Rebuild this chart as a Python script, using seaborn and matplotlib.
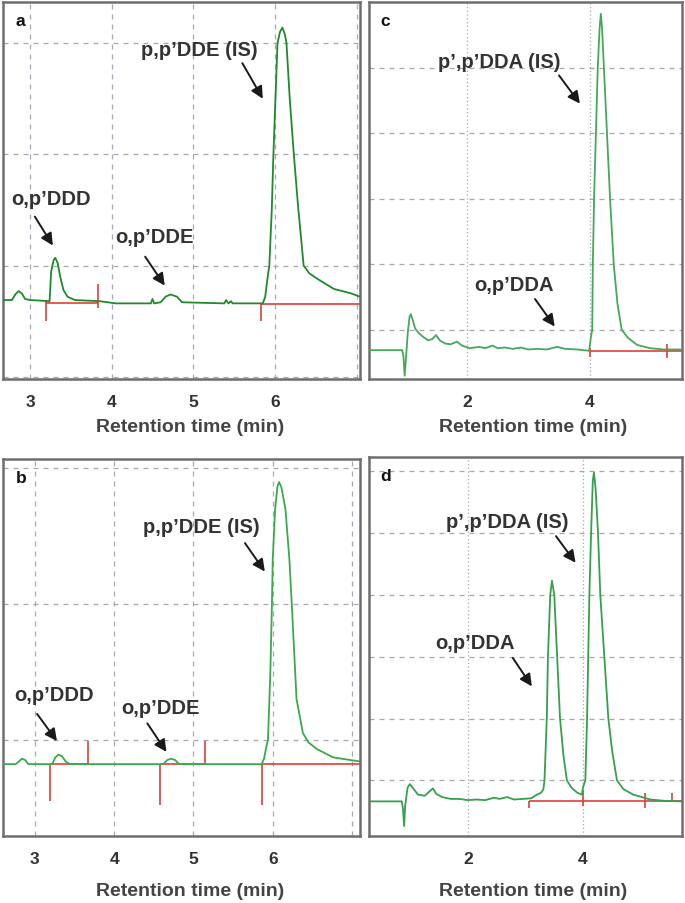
import seaborn as sns
import matplotlib
matplotlib.use("Agg")
import matplotlib.pyplot as plt
import pandas as pd

sns.set_style("white")
plt.rcParams['font.family'] = ['Liberation Sans', 'DejaVu Sans']

# chromatogram traces: (retention time [min], signal [grid units])
a_trace = [(2.67, 0.69), (2.78, 0.69), (2.82, 0.74), (2.86, 0.77), (2.90, 0.75), (2.94, 0.70),
           (3.00, 0.69), (3.24, 0.68), (3.26, 0.95), (3.29, 1.05), (3.31, 1.07), (3.34, 1.02),
           (3.37, 0.90), (3.41, 0.78), (3.46, 0.72), (3.55, 0.69), (3.85, 0.68), (3.95, 0.67),
           (4.05, 0.66), (4.48, 0.66), (4.50, 0.70), (4.52, 0.66), (4.60, 0.67), (4.66, 0.72),
           (4.72, 0.74), (4.80, 0.72), (4.86, 0.67), (5.38, 0.66), (5.40, 0.69), (5.43, 0.66),
           (5.46, 0.68), (5.48, 0.66), (5.85, 0.66), (5.88, 0.72), (5.91, 0.90), (5.93, 1.00),
           (5.96, 1.50), (5.98, 2.00), (6.01, 2.60), (6.03, 3.00), (6.06, 3.10), (6.09, 3.14),
           (6.12, 3.08), (6.14, 3.00), (6.18, 2.50), (6.23, 2.00), (6.28, 1.55), (6.35, 1.00),
           (6.42, 0.93), (6.52, 0.88), (6.72, 0.79), (6.93, 0.75), (7.04, 0.72)]

b_trace = [(2.60, 0.82), (2.76, 0.82), (2.80, 0.84), (2.84, 0.86), (2.88, 0.85), (2.92, 0.82),
           (3.22, 0.82), (3.26, 0.87), (3.30, 0.89), (3.34, 0.88), (3.39, 0.84), (3.44, 0.82),
           (4.62, 0.82), (4.67, 0.85), (4.72, 0.86), (4.77, 0.85), (4.82, 0.82), (5.86, 0.82),
           (5.89, 0.86), (5.92, 0.95), (5.94, 1.00), (5.97, 1.50), (5.99, 2.00), (6.00, 2.33),
           (6.03, 2.70), (6.06, 2.87), (6.08, 2.90), (6.11, 2.86), (6.16, 2.70), (6.21, 2.33),
           (6.24, 2.00), (6.30, 1.30), (6.38, 1.05), (6.45, 0.98), (6.56, 0.93), (6.76, 0.87),
           (6.98, 0.85), (7.10, 0.84)]

c_trace = [(0.41, 0.69), (0.95, 0.69), (0.97, 0.60), (0.99, 0.30), (1.01, 0.55), (1.04, 0.95),
           (1.07, 1.20), (1.09, 1.24), (1.12, 1.15), (1.16, 1.02), (1.21, 0.96), (1.28, 0.90),
           (1.37, 0.84), (1.44, 0.86), (1.50, 0.92), (1.56, 0.84), (1.65, 0.79), (1.74, 0.78),
           (1.84, 0.82), (1.92, 0.76), (2.05, 0.72), (2.20, 0.74), (2.30, 0.72), (2.42, 0.76),
           (2.50, 0.72), (2.62, 0.73), (2.75, 0.71), (2.88, 0.73), (3.00, 0.70), (3.15, 0.71),
           (3.30, 0.70), (3.47, 0.74), (3.60, 0.71), (3.80, 0.70), (3.99, 0.68), (4.02, 0.90),
           (4.04, 1.00), (4.05, 2.00), (4.07, 3.00), (4.10, 4.00), (4.13, 5.00), (4.16, 5.60),
           (4.18, 5.82), (4.20, 5.60), (4.23, 5.00), (4.28, 4.00), (4.33, 3.00), (4.39, 2.00),
           (4.45, 1.40), (4.52, 1.00), (4.62, 0.88), (4.77, 0.77), (4.98, 0.72), (5.20, 0.70),
           (5.50, 0.70)]

d_trace = [(0.28, 0.66), (0.85, 0.66), (0.87, 0.55), (0.89, 0.26), (0.91, 0.60), (0.95, 0.88),
           (0.99, 0.94), (1.04, 0.88), (1.13, 0.77), (1.25, 0.75), (1.33, 0.82), (1.39, 0.87),
           (1.45, 0.78), (1.55, 0.73), (1.70, 0.70), (1.85, 0.70), (2.00, 0.68), (2.15, 0.69),
           (2.30, 0.68), (2.45, 0.72), (2.55, 0.70), (2.68, 0.73), (2.80, 0.69), (2.95, 0.70),
           (3.10, 0.71), (3.20, 0.77), (3.27, 0.80), (3.31, 0.85), (3.33, 1.00), (3.37, 2.00),
           (3.39, 3.00), (3.43, 4.00), (3.46, 4.23), (3.50, 4.00), (3.55, 3.00), (3.60, 2.00),
           (3.66, 1.40), (3.72, 1.00), (3.80, 0.88), (3.90, 0.80), (3.98, 0.77), (4.00, 0.89),
           (4.04, 1.00), (4.07, 2.00), (4.09, 3.00), (4.11, 4.00), (4.14, 5.00), (4.17, 5.85),
           (4.19, 5.98), (4.22, 5.70), (4.26, 5.00), (4.30, 4.00), (4.37, 3.00), (4.44, 2.00),
           (4.51, 1.45), (4.59, 1.00), (4.70, 0.86), (4.87, 0.77), (5.17, 0.69), (5.40, 0.67),
           (5.72, 0.66)]

# integration baselines (start, end, level) and markers (time, low, high)
a_base = [(3.20, 3.83, 0.66), (5.83, 7.04, 0.65)]
a_marks = [(3.20, 0.50, 0.69), (3.83, 0.62, 0.83), (5.83, 0.50, 0.66)]
b_base = [(3.19, 3.67, 0.82), (4.58, 5.15, 0.82), (5.86, 7.10, 0.82)]
b_marks = [(3.19, 0.55, 0.82), (3.67, 0.82, 0.99), (4.58, 0.52, 0.82), (5.15, 0.82, 0.99), (5.86, 0.52, 0.82)]
c_base = [(4.00, 5.50, 0.68)]
c_marks = [(4.00, 0.58, 0.72), (5.26, 0.57, 0.78)]
d_base = [(3.06, 5.72, 0.66)]
d_marks = [(3.06, 0.56, 0.66), (4.00, 0.58, 0.85), (5.08, 0.56, 0.80), (5.55, 0.66, 0.80)]

# peak labels: text, text position, arrow tail, arrow head
a_labels = [("p,p’DDE (IS)", 5.07, 2.94, 5.60, 2.82, 5.85, 2.50),
            ("o,p’DDD", 3.26, 1.60, 3.06, 1.44, 3.28, 1.18),
            ("o,p’DDE", 4.53, 1.26, 4.41, 1.08, 4.65, 0.82)]
b_labels = [("p,p’DDE (IS)", 5.10, 2.57, 5.65, 2.45, 5.90, 2.24),
            ("o,p’DDD", 3.24, 1.33, 3.03, 1.19, 3.28, 0.99),
            ("o,p’DDE", 4.58, 1.24, 4.42, 1.12, 4.66, 0.91)]
c_labels = [("p’,p’DDA (IS)", 2.52, 5.10, 3.50, 4.88, 3.84, 4.45),
            ("o,p’DDA", 2.77, 1.69, 3.11, 1.47, 3.43, 1.05)]
d_labels = [("p’,p’DDA (IS)", 2.68, 5.18, 3.53, 4.95, 3.87, 4.52),
            ("o,p’DDA", 2.12, 3.23, 2.78, 2.98, 3.11, 2.52)]

a_ticks = [3, 4, 5, 6]
c_ticks = [2, 4]

W, H = 685, 904
fig = plt.figure(figsize=(W / 100, H / 100), dpi=100)


def px_axes(left, top, right, bottom):
    return fig.add_axes([left / W, 1 - bottom / H, (right - left) / W, (bottom - top) / H])


panels = [
    # letter, axes box (px), trace, base, marks, labels, xlim, ylim, xgrid, ygrid, xticks, green, vgrid style
    ("a", (3, 3, 360, 380), a_trace, a_base, a_marks, a_labels, (2.67, 7.04), (-0.02, 3.37),
     [3, 4, 5, 6, 7], [0, 1, 2, 3], a_ticks, "#1f8a2c", (0, (4, 4))),
    ("b", (3, 460, 360, 837), b_trace, b_base, b_marks, b_labels, (2.60, 7.10), (0.29, 3.07),
     [3, 4, 5, 6, 7], [1, 2, 3], a_ticks, "#3aaa4c", (0, (4, 4))),
    ("c", (369, 3, 682, 380), c_trace, c_base, c_marks, c_labels, (0.41, 5.50), (0.25, 6.0),
     [2, 4], [1, 2, 3, 4, 5], c_ticks, "#45a85a", (0, (1, 2))),
    ("d", (369, 458, 682, 837), d_trace, d_base, d_marks, d_labels, (0.28, 5.72), (0.10, 6.23),
     [2, 4], [1, 2, 3, 4, 5, 6], c_ticks, "#36a04c", (0, (1, 2))),
]

for (letter, box, trace, base, marks, labels, xlim, ylim,
     xgrid, ygrid, xticks, green, vstyle) in panels:
    ax = px_axes(*box)
    df = pd.DataFrame(trace, columns=["time", "signal"])

    for x in xgrid:
        ax.axvline(x, color="#a8a8b4", lw=0.9, ls=vstyle, zorder=0)
    for y in ygrid:
        ax.axhline(y, color="#a8a8a8", lw=0.9, ls=(0, (4, 4)), zorder=0)

    for t0, t1, lvl in base:
        ax.hlines(lvl, t0, t1, color="#e0403a", lw=1.2, zorder=2)
    for t, lo, hi in marks:
        ax.vlines(t, lo, hi, color="#e0403a", lw=1.2, zorder=2)

    sns.lineplot(data=df, x="time", y="signal", ax=ax, color=green, lw=1.3,
                 sort=False, estimator=None, zorder=3)

    for text, tx, ty, x0, y0, x1, y1 in labels:
        ax.text(tx, ty, text, ha="center", va="center", fontsize=14.5,
                fontweight="bold", color="#333333")
        ax.annotate("", xy=(x1, y1), xytext=(x0, y0),
                    arrowprops=dict(arrowstyle="-|>", color="#1a1a1a", lw=1.4,
                                    mutation_scale=18, shrinkA=0, shrinkB=0))

    ax.text(0.035, 0.952, letter, transform=ax.transAxes, fontsize=12.5,
            fontweight="bold", color="#111111", va="center", ha="left")

    ax.set_xlim(*xlim)
    ax.set_ylim(*ylim)
    ax.set_xticks(xticks)
    ax.set_xticklabels([str(t) for t in xticks], fontweight="bold", fontsize=12.5, color="#333333")
    ax.set_yticks([])
    ax.tick_params(axis="x", length=0, pad=11)
    ax.set_ylabel("")
    ax.set_xlabel("Retention time (min)", fontsize=14, fontweight="bold", color="#444444")
    height = box[3] - box[1]
    off = 48 if letter in "ac" else 55
    ax.xaxis.set_label_coords(0.525, -off / height)
    ax.xaxis.label.set_va("center")
    for sp in ax.spines.values():
        sp.set_color("#6e6e6e")
        sp.set_linewidth(1.8)
        sp.set_visible(True)

fig.savefig("out.png", dpi=100)
